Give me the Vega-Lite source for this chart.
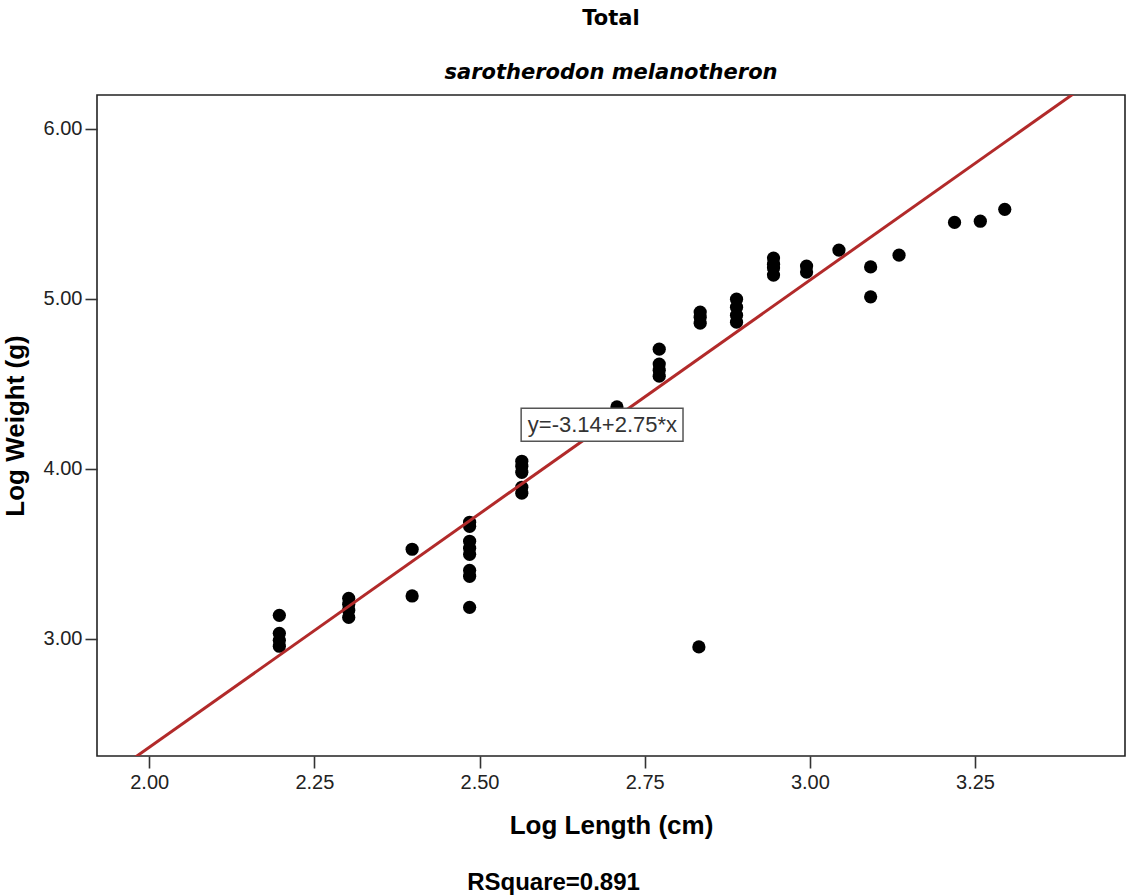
{
  "$schema": "https://vega.github.io/schema/vega-lite/v6.json",
  "width": 1028,
  "height": 661,
  "autosize": "none",
  "padding": {"left": 97, "top": 95, "right": 2, "bottom": 140},
  "background": "white",
  "title": {
    "text": "Total",
    "subtitle": "sarotherodon melanotheron",
    "anchor": "middle",
    "font": "DejaVu Sans",
    "fontSize": 21,
    "fontWeight": "bold",
    "color": "black",
    "subtitleFont": "DejaVu Sans",
    "subtitleFontSize": 21,
    "subtitleFontWeight": "bold",
    "subtitleFontStyle": "italic",
    "subtitleColor": "black",
    "subtitlePadding": 33,
    "offset": 12
  },
  "config": {
    "view": {"stroke": "#222", "strokeWidth": 1.6},
    "axis": {
      "domain": false,
      "grid": false,
      "tickColor": "#333",
      "tickWidth": 1.6,
      "tickSize": 12,
      "labelFont": "Liberation Sans",
      "labelFontSize": 20,
      "labelColor": "#222",
      "titleFont": "Liberation Sans",
      "titleFontSize": 26,
      "titleFontWeight": "bold",
      "titleColor": "black"
    }
  },
  "datasets": {
    "points": [
      {"len": 2.197, "wt": 3.137}, {"len": 2.197, "wt": 3.031}, {"len": 2.197, "wt": 2.990}, {"len": 2.197, "wt": 2.955},
      {"len": 2.302, "wt": 3.237}, {"len": 2.302, "wt": 3.202}, {"len": 2.302, "wt": 3.167}, {"len": 2.302, "wt": 3.125},
      {"len": 2.398, "wt": 3.526}, {"len": 2.398, "wt": 3.251},
      {"len": 2.485, "wt": 3.685}, {"len": 2.485, "wt": 3.661}, {"len": 2.485, "wt": 3.573}, {"len": 2.485, "wt": 3.532},
      {"len": 2.485, "wt": 3.496}, {"len": 2.485, "wt": 3.402}, {"len": 2.485, "wt": 3.367}, {"len": 2.485, "wt": 3.184},
      {"len": 2.564, "wt": 4.044}, {"len": 2.564, "wt": 4.015}, {"len": 2.564, "wt": 3.979}, {"len": 2.564, "wt": 3.891}, {"len": 2.564, "wt": 3.856},
      {"len": 2.708, "wt": 4.364},
      {"len": 2.772, "wt": 4.704}, {"len": 2.772, "wt": 4.616}, {"len": 2.772, "wt": 4.580}, {"len": 2.772, "wt": 4.545},
      {"len": 2.834, "wt": 4.922}, {"len": 2.834, "wt": 4.892}, {"len": 2.834, "wt": 4.857},
      {"len": 2.832, "wt": 2.951},
      {"len": 2.889, "wt": 4.998}, {"len": 2.889, "wt": 4.951}, {"len": 2.889, "wt": 4.904}, {"len": 2.889, "wt": 4.863},
      {"len": 2.945, "wt": 5.240}, {"len": 2.945, "wt": 5.204}, {"len": 2.945, "wt": 5.181}, {"len": 2.945, "wt": 5.140},
      {"len": 2.995, "wt": 5.193}, {"len": 2.995, "wt": 5.158},
      {"len": 3.044, "wt": 5.287},
      {"len": 3.092, "wt": 5.188}, {"len": 3.092, "wt": 5.012},
      {"len": 3.135, "wt": 5.257},
      {"len": 3.219, "wt": 5.450},
      {"len": 3.258, "wt": 5.457},
      {"len": 3.295, "wt": 5.527}
    ],
    "fit": [
      {"len": 1.9, "wt": 2.085},
      {"len": 3.5, "wt": 6.485}
    ]
  },
  "layer": [
    {
      "data": {"name": "points"},
      "mark": {"type": "circle", "size": 175, "color": "black", "opacity": 1},
      "encoding": {
        "x": {
          "field": "len",
          "type": "quantitative",
          "title": "Log Length (cm)",
          "scale": {"domain": [1.921, 3.477], "nice": false, "zero": false},
          "axis": {"values": [2, 2.25, 2.5, 2.75, 3, 3.25], "format": ".2f", "labelPadding": 4, "titlePadding": 20}
        },
        "y": {
          "field": "wt",
          "type": "quantitative",
          "title": "Log Weight (g)",
          "scale": {"domain": [2.309, 6.2], "nice": false, "zero": false},
          "axis": {"values": [3, 4, 5, 6], "format": ".2f", "labelPadding": 3, "titlePadding": 15}
        }
      }
    },
    {
      "data": {"name": "fit"},
      "mark": {"type": "line", "color": "#b22a2a", "strokeWidth": 3, "clip": true},
      "encoding": {
        "x": {"field": "len", "type": "quantitative", "title": "Log Length (cm)"},
        "y": {"field": "wt", "type": "quantitative", "title": "Log Weight (g)"}
      }
    },
    {
      "data": {"values": [{"label": "y=-3.14+2.75*x"}]},
      "mark": {"type": "rect", "fill": "white", "stroke": "#555", "strokeWidth": 1.5},
      "encoding": {
        "x": {"datum": 2.563, "type": "quantitative", "title": "Log Length (cm)"},
        "x2": {"datum": 2.808},
        "y": {"datum": 4.356, "type": "quantitative", "title": "Log Weight (g)"},
        "y2": {"datum": 4.162}
      }
    },
    {
      "data": {"values": [{"label": "y=-3.14+2.75*x"}]},
      "mark": {"type": "text", "font": "Liberation Sans", "fontSize": 22, "color": "#333", "align": "center", "baseline": "middle"},
      "encoding": {
        "x": {"datum": 2.686, "type": "quantitative", "title": "Log Length (cm)"},
        "y": {"datum": 4.259, "type": "quantitative", "title": "Log Weight (g)"},
        "text": {"field": "label"}
      }
    },
    {
      "data": {"values": [{"label": "RSquare=0.891"}]},
      "mark": {"type": "text", "font": "Liberation Sans", "fontSize": 24, "fontWeight": "bold", "color": "black", "align": "center", "baseline": "middle"},
      "encoding": {
        "x": {"datum": 2.612, "type": "quantitative", "title": "Log Length (cm)"},
        "y": {"datum": 1.56, "type": "quantitative", "title": "Log Weight (g)"},
        "text": {"field": "label"}
      }
    }
  ]
}
